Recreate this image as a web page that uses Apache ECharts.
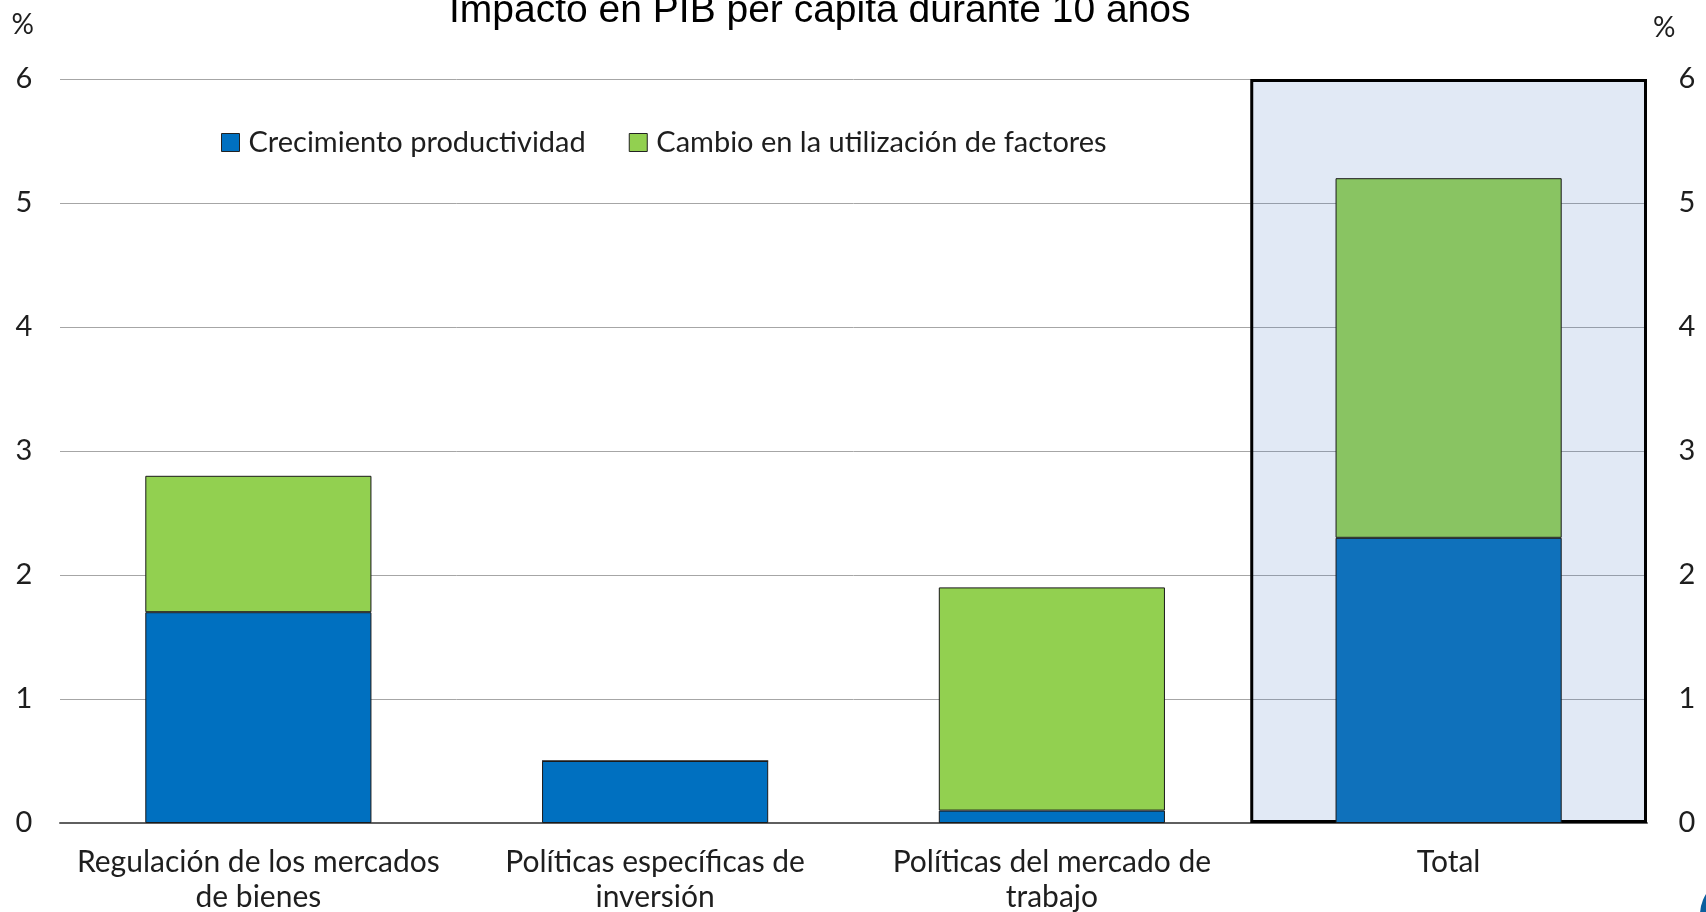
<!DOCTYPE html>
<html>
<head>
<meta charset="utf-8">
<script src="https://cdn.jsdelivr.net/npm/echarts@6/dist/echarts.min.js"></script>
<style>
  html, body { margin: 0; padding: 0; background: #fff; }
  #chart { width: 1706px; height: 912px; }
</style>
</head>
<body>
<div id="chart"></div>
<script>
// data
const categories = [
  'Regulación de los mercados\nde bienes',
  'Políticas específicas de\ninversión',
  'Políticas del mercado de\ntrabajo',
  'Total'
]
const productividad = [1.7, 0.5, 0.1, 2.3]
const factores = [1.1, 0, 1.8, 2.9]
const totalBox = [null, null, null, 6]
const yTicks = [0, 1, 2, 3, 4, 5, 6]

const seriesNames = ['Crecimiento productividad', 'Cambio en la utilización de factores']
const blue = '#0070C0'
const green = '#92D050'
const totalIdx = categories.length - 1

const labelFont = 'Lato, "Open Sans", sans-serif'
const textColor = '#1e1e1e'

function withTotalColor(values, color) {
  return values.map((v, i) => i === totalIdx ? { value: v, itemStyle: { color } } : v)
}

const chart = echarts.init(document.getElementById('chart'))

chart.setOption({
  animation: false,
  title: {
    text: 'Impacto en PIB per cápita durante 10 años',
    left: 449,
    top: -8,
    padding: 0,
    textStyle: { fontFamily: '"Liberation Sans", Arial, sans-serif', fontSize: 39, fontWeight: 'normal', color: '#000' }
  },
  legend: {
    left: 221,
    top: 128,
    padding: 0,
    itemWidth: 18,
    itemHeight: 18,
    itemGap: 43,
    icon: 'rect',
    data: seriesNames,
    formatter: name => name,
    itemStyle: { borderColor: '#222', borderWidth: 1 },
    textStyle: { fontFamily: labelFont, fontSize: 29, color: textColor, padding: [0, 0, 0, 4] }
  },
  grid: { left: 60, right: 59, top: 79, bottom: 89, containLabel: false, outerBoundsMode: 'none' },
  xAxis: [{
    type: 'category',
    data: categories,
    axisTick: { show: false },
    axisLine: { lineStyle: { color: '#5f5f5f', width: 2 } },
    axisLabel: { fontFamily: labelFont, fontSize: 30, color: textColor, margin: 22, lineHeight: 35, interval: 0 }
  }, {
    type: 'category',
    data: categories,
    show: false
  }],
  yAxis: [{
    type: 'value',
    min: yTicks[0],
    max: yTicks[yTicks.length - 1],
    interval: 1,
    name: '%',
    nameLocation: 'end',
    nameGap: 40,
    nameTextStyle: { fontFamily: labelFont, fontSize: 28, color: textColor, align: 'right', padding: [0, 26, 0, 0] },
    axisLine: { show: false },
    axisTick: { show: false },
    splitLine: { lineStyle: { color: '#A6A6A6', width: 1 } },
    axisLabel: { fontFamily: labelFont, fontSize: 29, color: textColor, margin: 36, align: 'center' }
  }, {
    type: 'value',
    position: 'right',
    min: yTicks[0],
    max: yTicks[yTicks.length - 1],
    interval: 1,
    name: '%',
    nameLocation: 'end',
    nameGap: 37,
    nameTextStyle: { fontFamily: labelFont, fontSize: 28, color: textColor, align: 'left', padding: [0, 0, 0, 6] },
    axisLine: { show: false },
    axisTick: { show: false },
    splitLine: { show: false },
    axisLabel: { fontFamily: labelFont, fontSize: 29, color: textColor, margin: 40, align: 'center' }
  }],
  series: [{
    name: 'box',
    type: 'bar',
    xAxisIndex: 1,
    barWidth: '100%',
    z: 1,
    silent: true,
    data: totalBox,
    itemStyle: { color: 'rgba(70,120,190,0.16)', borderColor: '#000', borderWidth: 3 }
  }, {
    name: seriesNames[0],
    type: 'bar',
    stack: 'total',
    z: 3,
    barCategoryGap: '43%',
    data: withTotalColor(productividad, '#0F71BB'),
    itemStyle: { color: blue, borderColor: '#1a1a1a', borderWidth: 1 }
  }, {
    name: seriesNames[1],
    type: 'bar',
    stack: 'total',
    z: 3,
    barCategoryGap: '43%',
    data: withTotalColor(factores, '#89C462'),
    itemStyle: { color: green, borderColor: '#1a1a1a', borderWidth: 1 }
  }],
  graphic: [{
    type: 'circle',
    shape: { cx: 1740, cy: 915, r: 40 },
    style: { fill: '#0A5E9E' },
    silent: true
  }]
})
</script>
</body>
</html>
